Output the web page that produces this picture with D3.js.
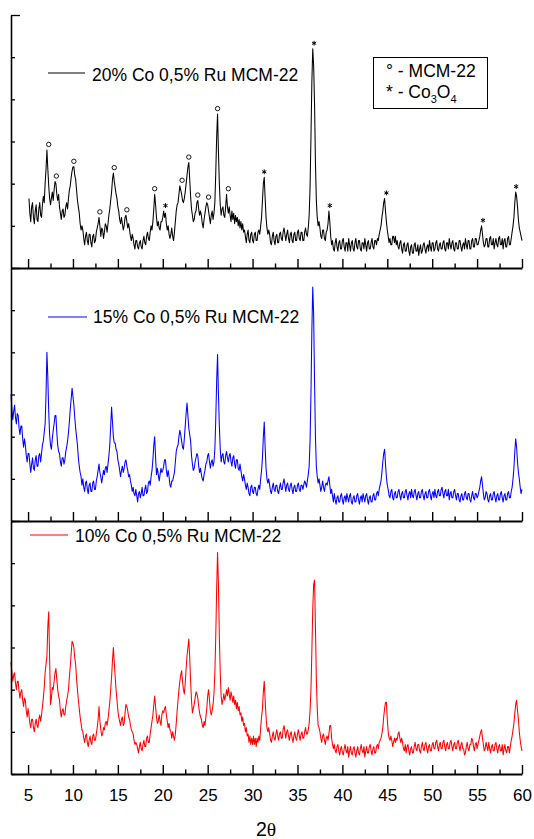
<!DOCTYPE html>
<html>
<head>
<meta charset="utf-8">
<script src="https://cdn.jsdelivr.net/npm/d3@7"></script>
<style>
  html, body { margin: 0; padding: 0; background: #fff; }
  svg { display: block; }
  text { font-family: "Liberation Sans", Arial, Helvetica, sans-serif; fill: #000; }
</style>
</head>
<body>
<svg id="chart" width="534" height="839"></svg>
<script>
// Scan settings (°2θ): first angle of each pattern and the step between points
const scanStep = 0.1;
const start10 = 3.1;
const start15 = 3.1;
const start20 = 5.1;

// Intensities (a.u.), one value per step, one row = 2°
const intensity20 = [
  33,26,22,29,31,24,21,27,30,23,22,28,31,25,24,30,34,31,40,47,   // 5.1–7.0
  56,47,39,33,30,33,36,32,37,41,40,35,32,35,29,26,23,27,28,24,   // 7.1–9.0
  25,29,31,28,33,37,39,43,46,48,48,44,42,37,32,29,26,21,18,20,   // 9.1–11.0
  18,14,11,15,17,13,11,16,16,12,10,15,16,12,13,17,19,21,24,20,   // 11.1–13.0
  15,19,18,14,17,21,20,17,21,25,28,32,36,42,45,41,38,35,33,29,   // 13.1–15.0
  27,23,21,24,21,18,20,24,25,22,19,21,18,15,13,16,14,11,9,13,    // 15.1–17.0
  13,10,9,12,13,10,9,13,15,12,11,15,17,14,13,17,20,18,22,28,     // 17.1–19.0
  35,30,24,20,22,19,18,22,22,24,27,24,26,21,18,20,16,14,16,19,   // 19.1–21.0
  15,13,17,22,27,30,31,35,39,37,35,32,31,33,36,40,44,48,50,42,   // 21.1–23.0
  34,28,25,22,23,26,27,31,32,28,25,27,25,21,19,23,26,29,31,30,   // 23.1–25.0
  27,24,21,25,27,23,26,31,45,62,73,55,40,30,25,28,29,25,24,29,   // 25.1–27.0
  35,29,26,29,25,22,27,23,26,21,25,22,24,20,23,19,22,18,21,17,   // 27.1–29.0
  18,15,12,16,18,13,12,16,17,13,12,16,17,13,13,17,18,16,20,24,   // 29.1–31.0
  32,40,43,33,24,19,16,18,16,12,11,15,17,13,11,15,16,12,12,16,   // 31.1–33.0
  17,14,13,17,19,16,13,16,18,14,12,16,17,13,12,16,17,13,13,17,   // 33.1–35.0
  18,14,13,17,17,13,13,17,19,16,15,19,25,38,62,88,104,96,78,50,  // 35.1–37.0
  32,24,20,22,19,15,14,18,18,14,13,17,18,21,27,22,15,11,13,9,    // 37.1–39.0
  8,12,14,10,8,12,13,9,9,13,14,10,8,12,12,8,14,11,8,12,          // 39.1–41.0
  13,9,8,12,14,10,9,13,13,9,8,12,12,9,14,11,8,12,13,9,           // 41.1–43.0
  9,12,14,10,9,13,13,11,14,13,16,18,20,24,27,31,33,27,22,18,     // 43.1–45.0
  15,12,14,11,11,15,15,12,15,11,13,10,9,12,13,9,7,11,12,8,       // 45.1–47.0
  8,11,12,8,6,10,11,7,7,11,12,8,8,11,6,9,11,7,8,11,              // 47.1–49.0
  12,9,7,10,11,8,13,10,8,12,12,8,9,12,13,9,8,11,12,9,            // 49.1–51.0
  9,12,13,9,8,12,12,9,14,11,9,12,13,9,8,12,12,9,9,13,            // 51.1–53.0
  13,10,8,11,12,9,14,11,9,13,13,9,9,13,14,10,10,14,14,11,        // 53.1–55.0
  11,13,15,18,20,16,12,10,11,14,14,10,10,14,15,11,11,14,9,12,    // 55.1–57.0
  14,11,10,14,15,11,11,14,9,13,14,10,10,14,15,11,11,14,17,20,    // 57.1–59.0
  24,31,36,34,29,23,19,17,15,13                                  // 59.1–60.0
];

const intensity15 = [
  60,53,48,52,55,49,46,51,50,44,41,45,45,39,35,39,36,31,28,32,   // 3.1–5.0
  32,27,23,27,30,25,24,29,31,26,26,31,32,28,32,36,38,42,46,60,   // 5.1–7.0
  80,68,52,41,36,34,39,43,46,50,50,42,36,33,32,28,26,30,30,27,   // 7.1–9.0
  29,33,35,38,42,47,53,58,63,59,55,49,44,40,36,30,26,23,21,17,   // 9.1–11.0
  20,16,14,18,19,15,13,17,18,14,14,18,19,15,15,19,21,24,27,23,   // 11.1–13.0
  21,18,21,24,22,25,26,23,27,31,36,45,54,47,40,37,37,34,33,29,   // 13.1–15.0
  27,24,21,24,26,23,25,28,29,26,24,21,22,19,17,14,16,13,12,15,   // 15.1–17.0
  12,9,13,14,11,13,16,12,12,15,17,13,14,18,19,17,21,24,29,36,    // 17.1–19.0
  40,30,22,25,22,19,22,25,23,24,26,29,29,24,21,24,21,17,16,19,   // 19.1–21.0
  19,21,23,28,33,35,36,40,43,41,38,35,34,39,45,51,56,50,44,41,   // 21.1–23.0
  38,31,27,24,25,28,30,32,31,26,23,25,22,20,19,22,24,27,28,31,   // 23.1–25.0
  32,28,25,28,29,26,28,34,48,66,79,60,45,34,28,31,32,28,27,31,   // 25.1–27.0
  33,30,28,31,32,28,26,30,31,27,25,29,29,25,24,27,24,21,19,22,   // 27.1–29.0
  20,17,15,18,16,13,12,16,17,14,13,16,16,13,12,15,17,15,20,24,   // 29.1–31.0
  30,40,47,35,25,20,18,20,17,14,13,16,18,15,14,17,17,14,13,16,   // 31.1–33.0
  18,15,15,18,20,17,14,17,18,15,14,17,18,15,13,16,17,14,14,17,   // 33.1–35.0
  18,15,14,17,17,15,17,19,18,16,19,22,26,38,60,90,111,98,66,40,  // 35.1–37.0
  26,21,18,20,17,14,16,19,16,14,17,18,17,19,21,17,13,15,12,9,    // 37.1–39.0
  13,10,8,11,12,9,9,12,13,10,8,11,12,9,13,11,9,12,13,9,          // 39.1–41.0
  8,11,12,9,9,12,13,10,8,11,12,9,13,11,9,12,13,10,8,11,          // 41.1–43.0
  12,9,9,12,13,10,10,13,14,12,15,17,19,23,28,32,34,27,21,17,     // 43.1–45.0
  15,12,11,14,15,11,10,13,14,11,11,14,15,12,10,13,14,11,11,14,   // 45.1–47.0
  15,12,10,13,14,11,15,12,11,14,15,12,10,13,14,11,11,14,15,12,   // 47.1–49.0
  10,13,14,11,11,14,15,12,10,13,14,11,15,12,11,14,15,12,12,15,   // 49.1–51.0
  16,13,11,14,15,12,12,15,10,13,14,11,11,14,15,12,10,13,13,10,   // 51.1–53.0
  9,12,13,10,10,13,14,11,10,13,13,10,9,12,14,11,10,13,13,11,     // 53.1–55.0
  12,14,16,19,21,17,13,10,11,14,13,10,9,12,13,10,10,13,14,11,    // 55.1–57.0
  9,12,13,10,10,13,14,11,9,12,13,10,10,13,14,11,11,14,16,20,     // 57.1–59.0
  25,33,39,35,28,23,20,16,13,15                                  // 59.1–60.0
];

const intensity10 = [
  53,48,44,47,48,43,40,44,44,39,36,39,40,35,32,36,35,30,27,31,   // 3.1–5.0
  28,24,22,26,26,22,20,24,26,23,22,26,28,25,28,32,36,41,48,52,   // 5.1–7.0
  56,70,77,55,33,36,41,40,44,48,50,45,40,37,35,30,27,30,31,28,   // 7.1–9.0
  28,32,35,37,40,46,51,57,63,62,60,55,52,45,40,35,31,27,24,21,   // 9.1–11.0
  20,17,15,18,19,15,13,16,18,15,14,18,19,16,16,19,22,26,32,25,   // 11.1–13.0
  21,18,19,22,21,24,25,23,26,30,34,40,46,54,60,53,46,40,35,30,   // 13.1–15.0
  27,25,23,26,27,23,24,29,33,32,30,27,26,23,21,20,19,16,14,15,   // 15.1–17.0
  14,12,10,13,15,12,11,14,16,13,13,17,18,15,15,19,22,25,28,33,   // 17.1–19.0
  37,32,27,24,25,28,25,23,28,30,29,31,32,28,25,22,24,21,20,17,   // 19.1–21.0
  20,18,16,19,24,30,35,40,44,47,49,44,40,38,43,50,56,60,64,55,   // 21.1–23.0
  44,35,29,31,33,36,39,38,36,32,29,27,26,23,22,25,23,27,31,37,   // 23.1–25.0
  40,35,30,28,30,33,38,48,65,88,105,90,65,48,37,33,35,38,35,37,  // 25.1–27.0
  40,37,41,38,35,39,37,34,37,33,35,31,34,30,32,28,29,25,27,23,   // 27.1–29.0
  24,20,22,18,19,15,18,14,17,14,18,14,17,13,17,15,18,16,22,27,   // 29.1–31.0
  31,39,44,35,27,22,20,22,19,16,15,18,20,17,16,19,21,18,16,19,   // 31.1–33.0
  20,17,17,21,23,20,17,20,21,18,16,19,20,17,15,18,20,17,16,19,   // 33.1–35.0
  21,18,16,19,20,17,17,20,22,19,19,21,24,30,40,58,78,90,92,70,   // 35.1–37.0
  45,31,23,22,20,17,15,18,19,16,14,17,18,16,19,23,23,17,14,12,   // 37.1–39.0
  14,11,10,13,14,11,9,12,13,10,9,12,14,11,10,13,8,11,13,10,      // 39.1–41.0
  9,12,13,10,8,11,13,10,9,12,14,11,10,13,8,11,13,10,10,13,       // 41.1–43.0
  14,11,9,12,13,10,10,13,14,12,15,16,17,19,22,27,31,34,34,26,    // 43.1–45.0
  20,17,16,18,16,13,15,17,15,17,16,19,20,17,15,17,15,12,11,14,   // 45.1–47.0
  10,13,14,11,9,12,13,10,10,13,15,12,11,14,14,11,10,13,15,12,    // 47.1–49.0
  11,14,15,12,10,13,14,11,11,14,15,12,12,15,16,13,11,14,15,12,   // 49.1–51.0
  12,15,16,13,11,14,15,12,12,15,16,13,11,14,15,12,12,15,16,13,   // 51.1–53.0
  11,14,15,12,12,9,10,13,15,12,11,14,14,17,16,13,11,14,15,12,    // 53.1–55.0
  14,16,18,20,21,17,14,11,12,15,13,11,15,12,10,13,14,11,11,14,   // 55.1–57.0
  15,12,10,13,14,11,11,14,9,12,14,11,10,13,13,10,13,16,18,21,    // 57.1–59.0
  24,29,33,35,30,26,20,16,13,11                                  // 59.1–60.0
];

const seriesNames = ["20% Co 0,5% Ru MCM-22", "15% Co 0,5% Ru MCM-22", "10% Co 0,5% Ru MCM-22"];
const seriesColors = ["#000000", "#0000ff", "#ff0000"];

// Reflection markers on the 20% Co pattern (°2θ)
const mcmPeaks = [7.3, 8.15, 10.1, 13.0, 14.6, 16.0, 19.1, 22.15, 22.9, 23.9, 25.1, 26.1, 27.3];
const co3o4Peaks = [20.3, 31.3, 36.85, 38.6, 44.9, 55.65, 59.35];

const xTicks = [5, 10, 15, 20, 25, 30, 35, 40, 45, 50, 55, 60];
const xMinorTicks = [7.5, 12.5, 17.5, 22.5, 27.5, 32.5, 37.5, 42.5, 47.5, 52.5, 57.5];
const yTicks = [0, 20, 40, 60, 80, 100, 120];

// ---- layout ----
const svg = d3.select("#chart");
const plotLeft = 11, plotRight = 522;
const panelHeight = 253;
const panelTops = [15, 268, 521];

const x = d3.scaleLinear().domain([3.1, 60]).range([plotLeft, plotRight]);

const panels = [
  { values: intensity20, start: start20, name: seriesNames[0], color: seriesColors[0], top: panelTops[0],
    legend: { x0: 48, x1: 85, ly: 73, tx: 92, ty: 81 } },
  { values: intensity15, start: start15, name: seriesNames[1], color: seriesColors[1], top: panelTops[1],
    legend: { x0: 48, x1: 87, ly: 317, tx: 93, ty: 323 } },
  { values: intensity10, start: start10, name: seriesNames[2], color: seriesColors[2], top: panelTops[2],
    legend: { x0: 30, x1: 68, ly: 535, tx: 75, ty: 542 } }
];

panels.forEach((p, i) => {
  const bottom = p.top + panelHeight;
  const y = d3.scaleLinear().domain([0, 120]).range([bottom, p.top]);
  p.y = y;
  const pts = p.values.map((v, k) => [p.start + k * scanStep, v]);
  p.points = pts;

  const g = svg.append("g");

  // pattern
  g.append("path")
    .datum(pts)
    .attr("fill", "none")
    .attr("stroke", p.color)
    .attr("stroke-width", 1.05)
    .attr("stroke-linejoin", "round")
    .attr("d", d3.line().x(d => x(d[0])).y(d => y(d[1])));

  // left axis, ticks pointing inward
  const yAxis = g.append("g")
    .attr("transform", `translate(${plotLeft},0)`)
    .call(d3.axisLeft(y).tickValues(yTicks).tickSizeInner(-4).tickSizeOuter(0).tickFormat(""));
  yAxis.select(".domain").attr("stroke-width", 1.6);
  yAxis.selectAll(".tick line").attr("stroke-width", 1.3);
  yAxis.selectAll(".tick").filter(d => d === 120).select("line").attr("x2", 9);

  // bottom axis: major and minor ticks pointing up
  const xAxis = g.append("g")
    .attr("transform", `translate(0,${bottom})`)
    .call(d3.axisBottom(x).tickValues(xTicks).tickSizeInner(-9).tickSizeOuter(0)
      .tickFormat(i === 2 ? d3.format("d") : ""));
  xAxis.select(".domain").attr("stroke-width", 2);
  xAxis.selectAll(".tick line").attr("stroke-width", 1.4);
  xAxis.selectAll(".tick text")
    .attr("y", 26.5).attr("dy", null)
    .style("font-size", "17px")
    .style("font-family", "'Liberation Sans', Arial, sans-serif");

  const xMinor = g.append("g")
    .attr("transform", `translate(0,${bottom})`)
    .call(d3.axisBottom(x).tickValues(xMinorTicks).tickSizeInner(-4.5).tickSizeOuter(0).tickFormat(""));
  xMinor.select(".domain").remove();
  xMinor.selectAll(".tick line").attr("stroke-width", 1.4);

  // series legend
  const L = p.legend;
  g.append("line")
    .attr("x1", L.x0).attr("x2", L.x1).attr("y1", L.ly).attr("y2", L.ly)
    .attr("stroke", p.color).attr("stroke-width", 1.1);
  g.append("text")
    .attr("x", L.tx).attr("y", L.ty)
    .style("font-size", "17.5px")
    .text(p.name);
});

// reflection markers above the 20% Co pattern
const firstPanel = panels[0];
function markerY(angle) {
  const near = firstPanel.points.filter(d => Math.abs(d[0] - angle) <= 0.35);
  return firstPanel.y(d3.max(near, d => d[1])) - 5.5;
}
svg.append("g").selectAll("circle")
  .data(mcmPeaks)
  .join("circle")
  .attr("cx", d => x(d))
  .attr("cy", d => markerY(d))
  .attr("r", 2.2)
  .attr("fill", "none")
  .attr("stroke", "#000")
  .attr("stroke-width", 0.9);

svg.append("g").selectAll("path")
  .data(co3o4Peaks)
  .join("path")
  .attr("transform", d => `translate(${x(d)},${markerY(d)})`)
  .attr("d", d3.symbol(d3.symbolAsterisk, 16)())
  .attr("fill", "none")
  .attr("stroke", "#000")
  .attr("stroke-width", 1);

// phase key
const key = svg.append("g");
key.append("rect")
  .attr("x", 373.5).attr("y", 57.5).attr("width", 114).attr("height", 51)
  .attr("fill", "#fff").attr("stroke", "#000").attr("stroke-width", 1);
key.append("text")
  .attr("x", 386).attr("y", 77)
  .style("font-size", "17.5px")
  .text("° - MCM-22");
const k2 = key.append("text")
  .attr("x", 386).attr("y", 98)
  .style("font-size", "17.5px");
k2.append("tspan").text("* - Co");
k2.append("tspan").attr("dy", 5).style("font-size", "11px").text("3");
k2.append("tspan").attr("dy", -5).text("O");
k2.append("tspan").attr("dy", 5).style("font-size", "11px").text("4");

// x-axis title
const xt = svg.append("text")
  .attr("x", 266).attr("y", 836)
  .attr("text-anchor", "middle")
  .style("font-size", "19.5px");
xt.append("tspan").text("2");
xt.append("tspan").style("font-family", "'Liberation Serif', 'DejaVu Serif', serif").text("θ");
</script>
</body>
</html>
